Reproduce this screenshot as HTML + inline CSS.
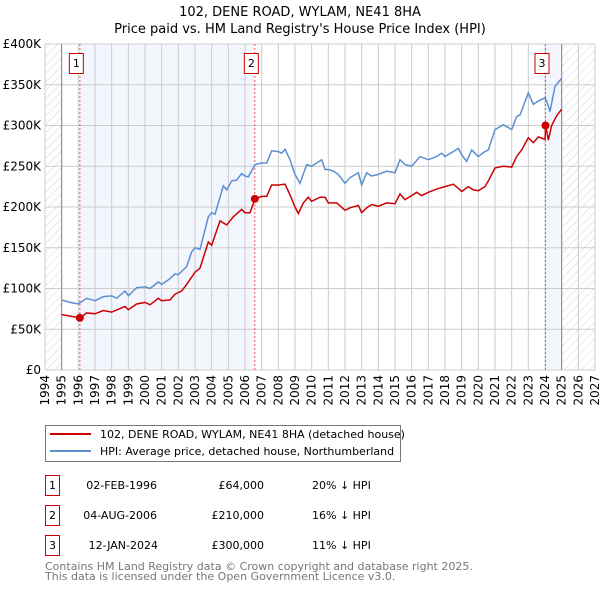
<!DOCTYPE html>
<html><head><meta charset="utf-8"><style>
body{margin:0;background:#fff;font-family:"DejaVu Sans","Liberation Sans",sans-serif;}
svg text{font-family:"DejaVu Sans","Liberation Sans",sans-serif;}
</style></head><body>
<svg id="chart" width="600" height="590" xmlns="http://www.w3.org/2000/svg">
<defs><pattern id="hatch" width="6" height="6" patternUnits="userSpaceOnUse" patternTransform="rotate(45)"><line x1="0" y1="0" x2="0" y2="6" stroke="#d4d4d4" stroke-width="1"/></pattern></defs>
<text x="300" y="16" text-anchor="middle" font-size="13">102, DENE ROAD, WYLAM, NE41 8HA</text>
<text x="300" y="33" text-anchor="middle" font-size="13">Price paid vs. HM Land Registry's House Price Index (HPI)</text>
<g id="plot"></g>
<g>
<rect x="45.5" y="425.5" width="355" height="36" fill="#fff" stroke="#777"/>
<line x1="50" y1="434" x2="91" y2="434" stroke="#cc0000" stroke-width="2"/>
<text x="100" y="438" font-size="11">102, DENE ROAD, WYLAM, NE41 8HA (detached house)</text>
<line x1="50" y1="451" x2="91" y2="451" stroke="#5b8fd0" stroke-width="2"/>
<text x="100" y="455" font-size="11">HPI: Average price, detached house, Northumberland</text>
</g>
<g font-size="11">
<rect x="45.5" y="475.5" width="14" height="20" fill="#fff" stroke="#cc0000"/><text x="52.5" y="489" text-anchor="middle">1</text>
<text x="157" y="489" text-anchor="end">02-FEB-1996</text><text x="264" y="489" text-anchor="end">£64,000</text><text x="312" y="489">20% ↓ HPI</text>
<rect x="45.5" y="505.5" width="14" height="20" fill="#fff" stroke="#cc0000"/><text x="52.5" y="519" text-anchor="middle">2</text>
<text x="157" y="519" text-anchor="end">04-AUG-2006</text><text x="264" y="519" text-anchor="end">£210,000</text><text x="312" y="519">16% ↓ HPI</text>
<rect x="45.5" y="535.5" width="14" height="20" fill="#fff" stroke="#cc0000"/><text x="52.5" y="549" text-anchor="middle">3</text>
<text x="158" y="549" text-anchor="end">12-JAN-2024</text><text x="264" y="549" text-anchor="end">£300,000</text><text x="312" y="549">11% ↓ HPI</text>
</g>
<text x="45" y="570" font-size="11" fill="#777">Contains HM Land Registry data © Crown copyright and database right 2025.</text>
<text x="45" y="580" font-size="11" fill="#777">This data is licensed under the Open Government Licence v3.0.</text>
</svg>
<script>
const yearTicks=[1994,1995,1996,1997,1998,1999,2000,2001,2002,2003,2004,2005,2006,2007,2008,2009,2010,2011,2012,2013,2014,2015,2016,2017,2018,2019,2020,2021,2022,2023,2024,2025,2026,2027];
const yTicks=[0,50,100,150,200,250,300,350,400];
const yTickLabels=["£0","£50K","£100K","£150K","£200K","£250K","£300K","£350K","£400K"];
const hpiYears=[1995.0,1995.5,1996.0,1996.5,1997.0,1997.5,1998.0,1998.3,1998.8,1999.0,1999.5,2000.0,2000.3,2000.8,2001.0,2001.5,2001.8,2002.0,2002.5,2002.8,2003.0,2003.3,2003.8,2004.0,2004.2,2004.7,2004.9,2005.2,2005.5,2005.8,2006.0,2006.2,2006.6,2007.0,2007.3,2007.6,2008.0,2008.2,2008.4,2008.7,2009.0,2009.3,2009.7,2010.0,2010.3,2010.6,2010.8,2011.0,2011.3,2011.6,2012.0,2012.3,2012.8,2013.0,2013.3,2013.6,2014.0,2014.5,2015.0,2015.3,2015.6,2016.0,2016.5,2017.0,2017.5,2017.8,2018.0,2018.5,2018.8,2019.0,2019.3,2019.6,2020.0,2020.4,2020.6,2021.0,2021.5,2022.0,2022.3,2022.5,2023.0,2023.3,2023.6,2024.0,2024.1,2024.3,2024.6,2025.0];
const hpiValues=[86,83,81,88,85,90,91,88,97,91,101,102,100,108,105,112,118,117,127,145,150,148,188,193,191,226,221,232,233,241,238,237,252,254,254,269,268,266,271,258,240,229,252,250,254,258,246,246,244,240,229,236,242,227,242,238,240,244,242,258,252,250,262,258,262,266,262,268,272,264,256,270,262,268,270,295,301,295,311,313,340,326,330,334,330,317,348,358];
const priceYears=[1995.0,1996.1,1996.5,1997.0,1997.5,1998.0,1998.8,1999.0,1999.5,2000.0,2000.3,2000.8,2001.0,2001.5,2001.8,2002.2,2002.5,2003.0,2003.3,2003.8,2004.0,2004.5,2004.9,2005.3,2005.8,2006.0,2006.3,2006.6,2007.0,2007.3,2007.6,2008.0,2008.4,2008.7,2009.0,2009.2,2009.5,2009.8,2010.0,2010.5,2010.8,2011.0,2011.5,2012.0,2012.3,2012.8,2013.0,2013.3,2013.6,2014.0,2014.5,2015.0,2015.3,2015.6,2016.0,2016.3,2016.6,2017.0,2017.5,2018.0,2018.5,2018.8,2019.0,2019.4,2019.7,2020.0,2020.4,2020.6,2021.0,2021.5,2022.0,2022.3,2022.6,2023.0,2023.3,2023.6,2024.0,2024.04,2024.2,2024.4,2024.7,2025.0];
const priceValues=[68,64,70,69,73,71,78,74,81,83,80,88,85,86,93,97,105,120,125,157,153,183,178,188,197,193,193,210,213,213,227,227,228,215,200,192,205,212,207,212,212,205,205,196,199,202,193,199,203,201,205,204,216,209,214,218,214,218,222,225,228,223,219,225,221,220,225,232,248,250,249,262,270,285,279,286,283,300,282,300,312,320];
const saleLabels=["1","2","3"];
const saleYears=[1996.09,2006.59,2024.03];
const saleValues=[64,210,300];
const NS="http://www.w3.org/2000/svg";
const L=45,R=595,T=44,B=370;
const xs=y=>L+(y-1994)/(2027-1994)*(R-L);
const ys=v=>B-v/400*(B-T);
const plot=document.getElementById('plot');
function mk(tag,attrs,parent){const e=document.createElementNS(NS,tag);for(const k in attrs)e.setAttribute(k,attrs[k]);(parent||plot).appendChild(e);return e;}
let e;
e=mk('rect',{x:xs(1994),y:T,width:xs(1995)-xs(1994),height:B-T,fill:'url(#hatch)'});


e=mk('rect',{x:xs(2025),y:T,width:xs(2027)-xs(2025),height:B-T,fill:'url(#hatch)'});


e=mk('rect',{x:xs(saleYears[0]),y:T,width:xs(saleYears[1])-xs(saleYears[0]),height:B-T,fill:'#f3f6fd'});


e=mk('rect',{x:xs(saleYears[2]),y:T,width:xs(2025)-xs(saleYears[2]),height:B-T,fill:'#f3f6fd'});


yearTicks.forEach(y=>{
 e=mk('line',{x1:xs(y),x2:xs(y),y1:T,y2:B,stroke:'#ccc','stroke-width':1});
 
 
 e=mk('text',{transform:`translate(${xs(y)+4},${B+5}) rotate(-90)`,'text-anchor':'end','font-size':'12'});
 e.textContent=y;
 
 
});
yTicks.forEach((v,i)=>{
 e=mk('line',{x1:L,x2:R,y1:ys(v),y2:ys(v),stroke:'#ccc','stroke-width':1});
 
 
 e=mk('text',{x:L-4,y:ys(v)+4,'text-anchor':'end','font-size':'12'});
 e.textContent=yTickLabels[i];
 
 
});
e=mk('line',{x1:xs(1995),x2:xs(1995),y1:T,y2:B,stroke:'#888'});


e=mk('line',{x1:xs(2025),x2:xs(2025),y1:T,y2:B,stroke:'#888'});


saleYears.forEach((y,i)=>{
 e=mk('line',{x1:xs(y),x2:xs(y),y1:T,y2:B,stroke:'#ee5555','stroke-dasharray':'2,2'});
 
 
 e=mk('rect',{x:xs(y)-10.5,y:53.5,width:14,height:20,fill:'#fff',stroke:'#cc0000'});
 
 
 e=mk('text',{x:xs(y)-3.5,y:67,'text-anchor':'middle','font-size':'11'});
 e.textContent=saleLabels[i];
 
 
});
e=mk('polyline',{points:hpiYears.map((y,i)=>xs(y)+','+ys(hpiValues[i])).join(' '),fill:'none',stroke:'#5b8fd0','stroke-width':1.5});


e=mk('polyline',{points:priceYears.map((y,i)=>xs(y)+','+ys(priceValues[i])).join(' '),fill:'none',stroke:'#cc0000','stroke-width':1.5});


saleYears.forEach((y,i)=>{
 e=mk('circle',{cx:xs(y),cy:ys(saleValues[i]),r:4,fill:'#cc0000'});
 
 
});
</script>
</body></html>
